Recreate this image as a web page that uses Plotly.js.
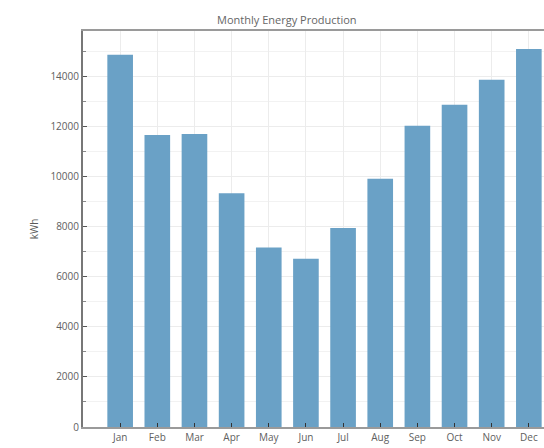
<!DOCTYPE html>
<html>
<head>
<meta charset="utf-8">
<script src="https://cdn.plot.ly/plotly-3.0.1.min.js"></script>
<style>
html,body{margin:0;padding:0;overflow:hidden;width:544px;height:448px;background:#fff;}
#chart{width:600px;height:448px;}
</style>
</head>
<body>
<div id="chart"></div>
<script>
const months = ["Jan","Feb","Mar","Apr","May","Jun","Jul","Aug","Sep","Oct","Nov","Dec"];
const production = [14870, 11670, 11710, 9340, 7170, 6720, 7950, 9920, 12030, 12870, 13870, 15100];
const chartTitle = "Monthly Energy Production";
const yTitle = "kWh";

const fontFam = "Open Sans, Noto Sans, sans-serif";
const trace = {
  type: "bar",
  x: months,
  y: production,
  marker: {color: "rgb(106,161,198)", line: {width: 0}},
  hoverinfo: "x+y"
};
const layout = {
  width: 600,
  height: 448,
  margin: {l: 83, r: 34, t: 31, b: 21},
  paper_bgcolor: "#ffffff",
  plot_bgcolor: "#ffffff",
  bargap: 0.31,
  showlegend: false,
  font: {family: fontFam, size: 11, color: "#5a5a5a"},
  title: {
    text: chartTitle,
    font: {family: fontFam, size: 11, color: "#666"},
    x: 0.422, xref: "paper", xanchor: "center",
    y: 1 - 20/448, yref: "container", yanchor: "middle"
  },
  xaxis: {
    type: "category",
    range: [-1, 12],
    showline: true, linecolor: "#9a9a9a", linewidth: 2, mirror: true,
    showgrid: true, gridcolor: "#ececec", gridwidth: 1,
    ticks: "inside", ticklen: 4, tickcolor: "#333", tickwidth: 1,
    tickfont: {family: fontFam, size: 10, color: "#606060"},
    fixedrange: true, zeroline: false
  },
  yaxis: {
    range: [0, 15820],
    dtick: 2000, tick0: 0,
    tickformat: "d",
    showline: true, linecolor: "#777", linewidth: 2,
    showgrid: true, gridcolor: "#ececec", gridwidth: 1,
    ticks: "inside", ticklen: 4, tickcolor: "#555",
    tickfont: {family: fontFam, size: 10, color: "#606060"},
    minor: {dtick: 1000, ticks: "inside", ticklen: 3, tickcolor: "#888", showgrid: true, gridcolor: "#f2f2f2"},
    zeroline: false,
    title: {text: yTitle, font: {family: fontFam, size: 10, color: "#5a5a5a"}, standoff: 10},
    fixedrange: true
  }
};
Plotly.newPlot("chart", [trace], layout, {displayModeBar: false, staticPlot: true});
</script>
</body>
</html>
